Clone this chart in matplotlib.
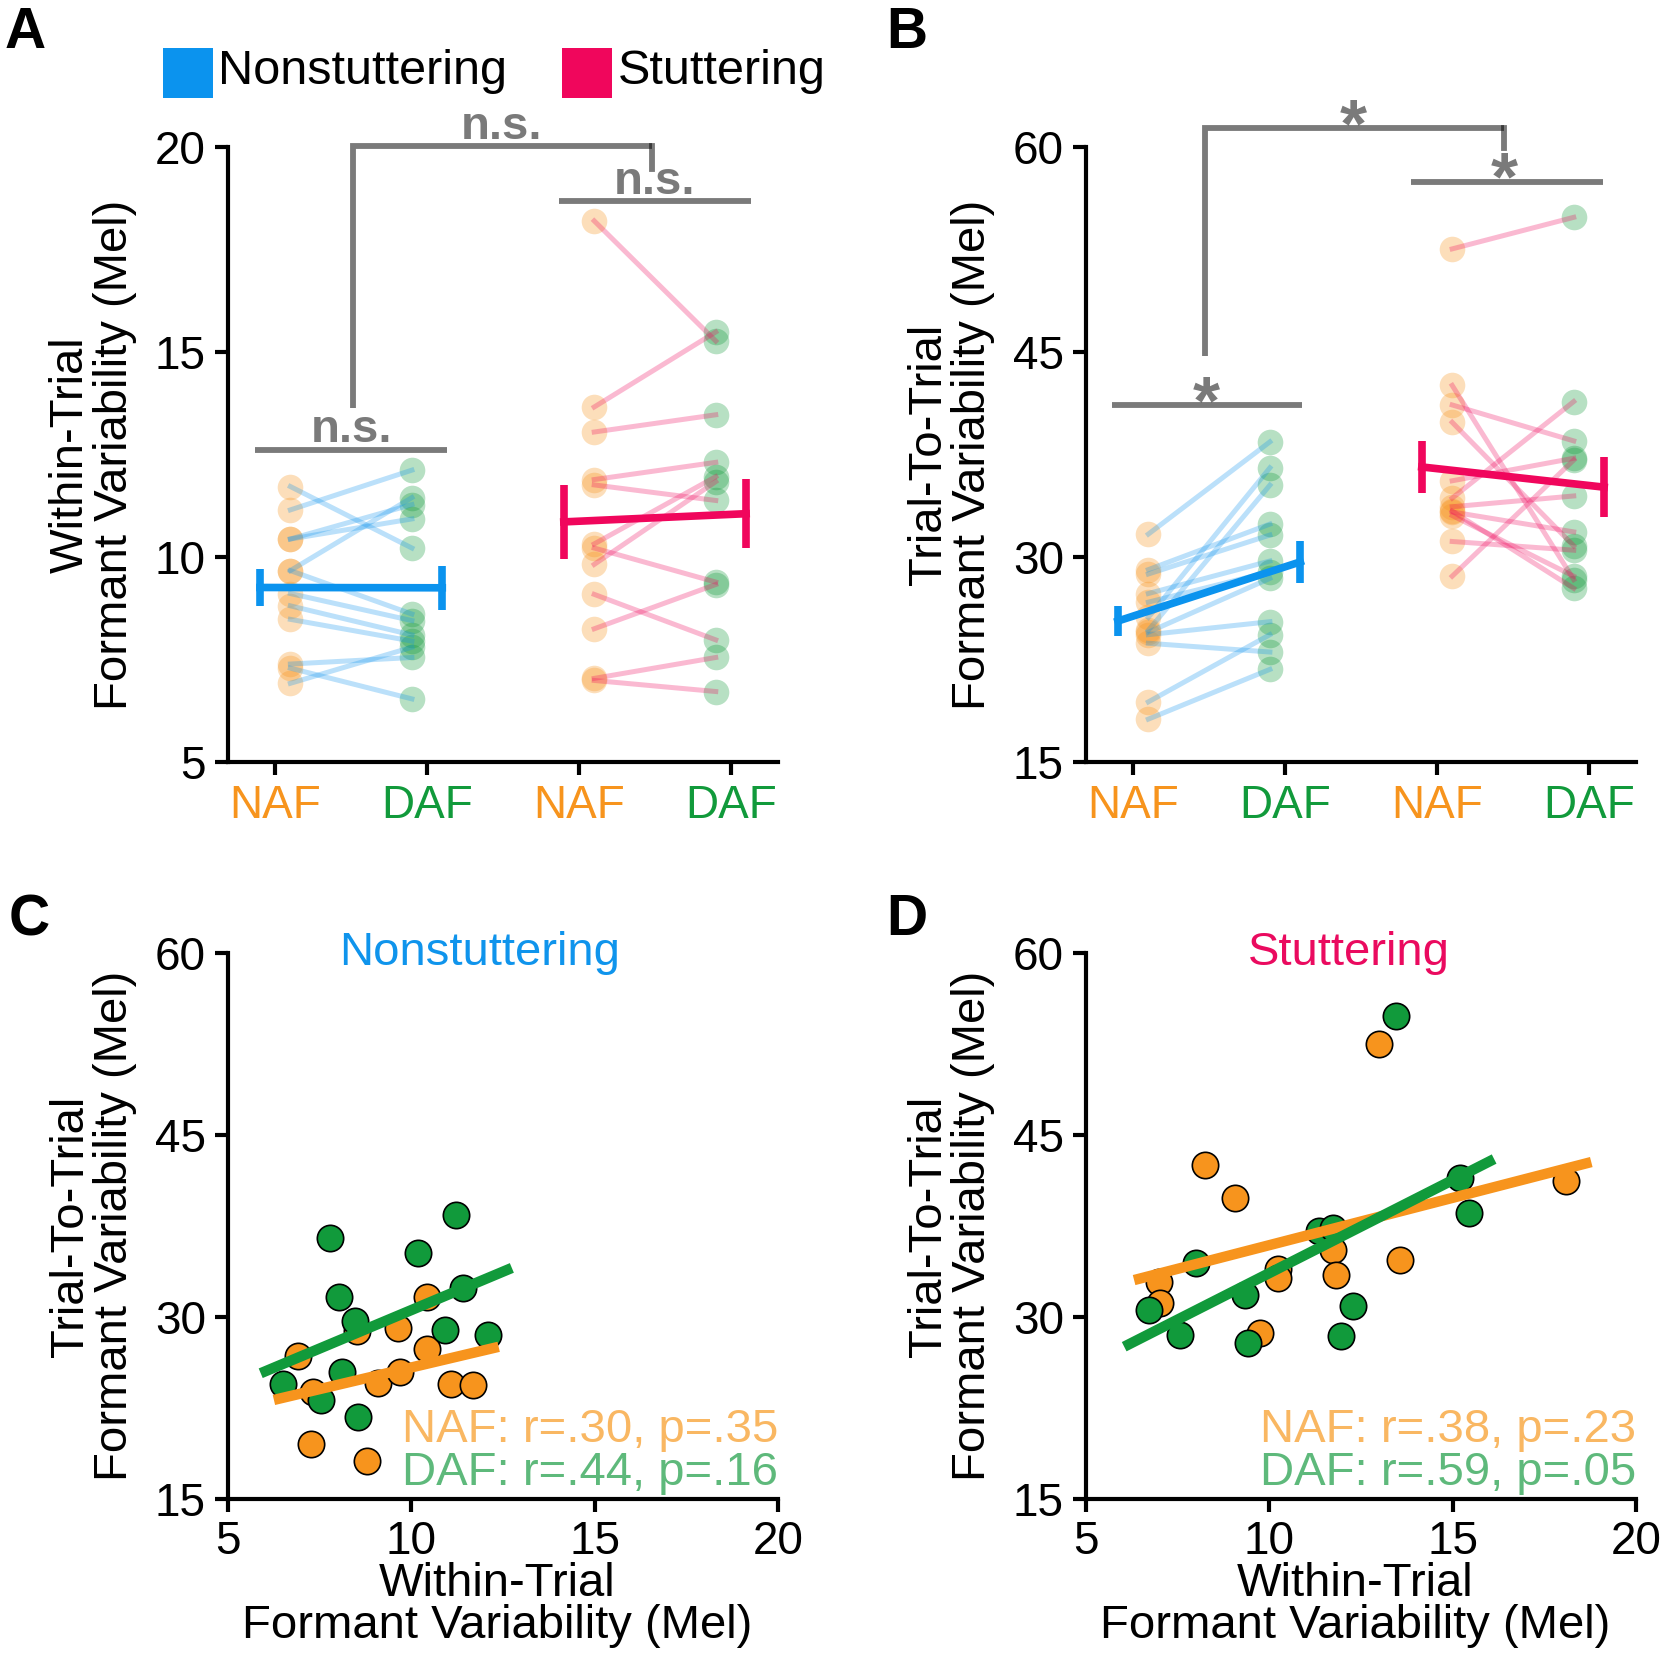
import numpy as np
import matplotlib

matplotlib.use("Agg")
from matplotlib import pyplot as plt
from matplotlib.patches import Rectangle

plt.rcParams['font.family'] = ['Liberation Sans', 'DejaVu Sans']

BLUE = '#0b93ee'
PINK = '#f0065c'
ORANGE = '#f7941d'
GREEN = '#119a3b'
ORANGE_TXT = '#f9b762'
GREEN_TXT = '#5eb97b'
GRAY = '#7a7a7a'

# panel A: within-trial variability, paired NAF -> DAF per speaker
a_ns_naf = [11.72, 11.15, 10.44, 10.44, 9.67, 9.67, 9.11, 8.81, 8.48, 7.39, 7.29, 6.92]
a_ns_daf = [10.22, 12.12, 11.28, 10.93, 11.45, 8.61, 8.45, 8.10, 7.95, 7.55, 6.54, 7.80]
a_st_naf = [18.20, 13.66, 13.05, 11.89, 11.76, 10.32, 10.22, 9.82, 9.09, 8.25, 7.04, 6.99]
a_st_daf = [15.27, 15.49, 13.47, 12.31, 11.38, 11.96, 9.39, 11.84, 7.98, 9.33, 7.55, 6.72]

# panel B: trial-to-trial variability
b_ns_naf = [31.68, 29.08, 28.76, 27.33, 26.70, 25.59, 24.64, 24.50, 24.32, 23.69, 19.40, 18.14]
b_ns_daf = [38.43, 32.41, 31.61, 29.71, 28.92, 36.53, 35.26, 28.44, 25.27, 23.05, 24.32, 21.78]
b_st_naf = [52.55, 42.56, 41.13, 39.86, 35.58, 34.31, 33.68, 33.36, 33.30, 33.04, 31.14, 28.60]
b_st_daf = [54.86, 28.35, 38.50, 30.82, 37.23, 41.38, 34.47, 27.71, 31.84, 28.60, 30.50, 37.10]

# panel C: nonstuttering, within-trial vs trial-to-trial
c_naf_within = [6.91, 7.31, 8.52, 9.64, 10.42, 10.42, 9.08, 9.69, 11.09, 11.67, 7.26, 8.80]
c_naf_trial = [26.77, 23.79, 28.81, 29.12, 31.63, 27.40, 24.58, 25.45, 24.51, 24.42, 19.50, 18.09]
c_daf_within = [7.79, 11.22, 10.18, 8.02, 8.46, 11.41, 10.91, 12.10, 8.10, 6.51, 7.53, 8.54]
c_daf_trial = [36.49, 38.37, 35.30, 31.63, 29.69, 32.35, 28.90, 28.50, 25.46, 24.51, 23.17, 21.76]

# panel D: stuttering
d_naf_within = [6.99, 7.01, 8.24, 9.06, 10.24, 10.24, 11.73, 11.82, 13.00, 13.57, 18.10, 9.74]
d_naf_trial = [32.88, 31.16, 42.51, 39.84, 33.92, 33.20, 35.55, 33.42, 52.48, 34.70, 41.19, 28.65]
d_daf_within = [6.73, 7.56, 9.41, 9.33, 11.94, 12.27, 11.36, 11.73, 15.21, 15.45, 13.44, 8.00]
d_daf_trial = [30.60, 28.50, 27.87, 31.79, 28.43, 30.94, 37.12, 37.34, 41.44, 38.53, 54.83, 34.45]

# regression lines as drawn: slope, intercept, x from, x to
c_fit_naf = [0.714, 18.70, 6.25, 12.38]
c_fit_daf = [1.267, 17.90, 5.89, 12.74]
d_fit_naf = [0.780, 28.12, 6.31, 18.78]
d_fit_daf = [1.533, 18.29, 6.04, 16.13]

c_stats = ['NAF: r=.30, p=.35', 'DAF: r=.44, p=.16']
d_stats = ['NAF: r=.38, p=.23', 'DAF: r=.59, p=.05']

cond_labels = ['NAF', 'DAF', 'NAF', 'DAF']
label_colors = [ORANGE, GREEN, ORANGE, GREEN]


def style_axes(ax):
    for side in ['top', 'right']:
        ax.spines[side].set_visible(False)
    for side in ['left', 'bottom']:
        ax.spines[side].set_linewidth(3)
    ax.tick_params(width=3, length=9.5, labelsize=33, pad=6.5)


def plot_pairs(ax, naf, daf, pos, color):
    x0, x1 = pos + 0.1, pos + 0.9
    ax.scatter([x0] * len(naf), naf, s=340, color=ORANGE, alpha=0.3, lw=0, zorder=2)
    ax.scatter([x1] * len(daf), daf, s=340, color=GREEN, alpha=0.3, lw=0, zorder=2)
    for a, b in zip(naf, daf):
        ax.plot([x0, x1], [a, b], color=color, alpha=0.28, lw=3.6, zorder=3)
    means = [np.mean(naf), np.mean(daf)]
    sems = [np.std(naf, ddof=1) / np.sqrt(len(naf)), np.std(daf, ddof=1) / np.sqrt(len(daf))]
    ax.errorbar([pos - 0.1, pos + 1.1], means, yerr=sems, color=color, lw=5.5,
                elinewidth=5.5, capsize=0, zorder=4)


def sig_line(ax, xs, ys, cap='butt'):
    ax.plot(xs, ys, color='black', alpha=0.52, lw=4.2, clip_on=False,
            solid_capstyle=cap, solid_joinstyle='miter', zorder=5)


def sig_text(ax, x, y, txt, dy, size):
    ax.annotate(txt, xy=(x, y), xytext=(0, dy), textcoords='offset points',
                ha='center', va='baseline', fontsize=size, fontweight='bold',
                color=GRAY, annotation_clip=False)


def slope_panel(ax, ns_naf, ns_daf, st_naf, st_daf, ylim, yticks, ylabel):
    plot_pairs(ax, ns_naf, ns_daf, 0, BLUE)
    plot_pairs(ax, st_naf, st_daf, 2, PINK)
    ax.set_xlim(-0.31, 3.31)
    ax.set_ylim(*ylim)
    ax.set_yticks(yticks)
    ax.set_xticks([0, 1, 2, 3])
    ax.set_xticklabels(cond_labels, fontsize=34)
    for lab, col in zip(ax.get_xticklabels(), label_colors):
        lab.set_color(col)
    ax.set_ylabel(ylabel, fontsize=34, linespacing=1.02)
    ax.yaxis.set_label_coords(-0.165, 0.5)
    style_axes(ax)


def scatter_panel(ax, naf_x, naf_y, daf_x, daf_y, fit_naf, fit_daf, stats, title, title_col, title_x):
    ax.scatter(naf_x, naf_y, s=360, color=ORANGE, edgecolor='black', lw=1.2, zorder=2, clip_on=False)
    ax.scatter(daf_x, daf_y, s=360, color=GREEN, edgecolor='black', lw=1.2, zorder=3, clip_on=False)
    for fit, col, z in [(fit_naf, ORANGE, 4), (fit_daf, GREEN, 5)]:
        xs = np.array(fit[2:])
        ax.plot(xs, fit[0] * xs + fit[1], color=col, lw=7.5, solid_capstyle='butt', zorder=z)
    ax.set_xlim(5, 20)
    ax.set_ylim(15, 60)
    ax.set_xticks([5, 10, 15, 20])
    ax.set_yticks([15, 30, 45, 60])
    # two-line x label
    ax.text(0.49, -0.1777, 'Within-Trial', transform=ax.transAxes, ha='center',
            va='baseline', fontsize=34)
    ax.text(0.49, -0.2546, 'Formant Variability (Mel)', transform=ax.transAxes, ha='center',
            va='baseline', fontsize=34)
    ax.set_ylabel('Trial-To-Trial\nFormant Variability (Mel)', fontsize=34, linespacing=1.02)
    ax.yaxis.set_label_coords(-0.165, 0.5)
    ax.text(1.0, 0.104, stats[0], transform=ax.transAxes, ha='right', va='baseline',
            fontsize=34, color=ORANGE_TXT)
    ax.text(1.0, 0.026, stats[1], transform=ax.transAxes, ha='right', va='baseline',
            fontsize=34, color=GREEN_TXT)
    ax.text(title_x, 0.978, title, transform=ax.transAxes, ha='center', va='baseline',
            fontsize=34, color=title_col)
    style_axes(ax)
    ax.tick_params(axis='x', pad=6)


fig = plt.figure(figsize=(16.66, 16.62), dpi=100)
ax_a = fig.add_axes([0.1369, 0.5415, 0.3301, 0.3700])
ax_b = fig.add_axes([0.6519, 0.5415, 0.3301, 0.3700])
ax_c = fig.add_axes([0.1369, 0.0981, 0.3301, 0.3285])
ax_d = fig.add_axes([0.6519, 0.0981, 0.3301, 0.3285])

# A
slope_panel(ax_a, a_ns_naf, a_ns_daf, a_st_naf, a_st_daf, (5, 20), [5, 10, 15, 20],
            'Within-Trial\nFormant Variability (Mel)')
sig_line(ax_a, [-0.13, 1.13], [12.62, 12.62])
sig_text(ax_a, 0.5, 12.62, 'n.s.', 5.5, 34)
sig_line(ax_a, [1.87, 3.13], [18.68, 18.68])
sig_text(ax_a, 2.5, 18.68, 'n.s.', 5.5, 34)
sig_line(ax_a, [0.51, 0.51, 2.48], [13.64, 20.02, 20.02])
sig_line(ax_a, [2.48, 2.48], [20.02, 19.46], cap='projecting')
sig_text(ax_a, 1.49, 20.02, 'n.s.', 5.5, 34)

# B
slope_panel(ax_b, b_ns_naf, b_ns_daf, b_st_naf, b_st_daf, (15, 60), [15, 30, 45, 60],
            'Trial-To-Trial\nFormant Variability (Mel)')
sig_line(ax_b, [-0.14, 1.11], [41.13, 41.13])
sig_text(ax_b, 0.48, 41.13, '*', -13, 50)
sig_line(ax_b, [1.83, 3.09], [57.46, 57.46])
sig_text(ax_b, 2.44, 57.46, '*', -13, 50)
sig_line(ax_b, [0.476, 0.476, 2.44], [44.7, 61.4, 61.4])
sig_line(ax_b, [2.44, 2.44], [61.4, 59.9], cap='projecting')
sig_text(ax_b, 1.45, 61.4, '*', -13, 50)

# C, D
scatter_panel(ax_c, c_naf_within, c_naf_trial, c_daf_within, c_daf_trial,
              c_fit_naf, c_fit_daf, c_stats, 'Nonstuttering', '#0f94ec', 0.458)
scatter_panel(ax_d, d_naf_within, d_naf_trial, d_daf_within, d_daf_trial,
              d_fit_naf, d_fit_daf, d_stats, 'Stuttering', '#ea0a5f', 0.478)

# group legend
fig.add_artist(Rectangle((0.0978, 0.9410), 0.0300, 0.0301, transform=fig.transFigure,
                         color=BLUE, lw=0))
fig.text(0.1309, 0.9495, 'Nonstuttering', fontsize=35, va='baseline')
fig.add_artist(Rectangle((0.3373, 0.9410), 0.0300, 0.0301, transform=fig.transFigure,
                         color=PINK, lw=0))
fig.text(0.3709, 0.9495, 'Stuttering', fontsize=35, va='baseline')

# panel letters
for letter, x, y in [('A', 0.003, 0.9711), ('B', 0.532, 0.9711),
                     ('C', 0.005, 0.4374), ('D', 0.532, 0.4374)]:
    fig.text(x, y, letter, fontsize=41, fontweight='bold', va='baseline')

fig.savefig('out.png', dpi=100)
